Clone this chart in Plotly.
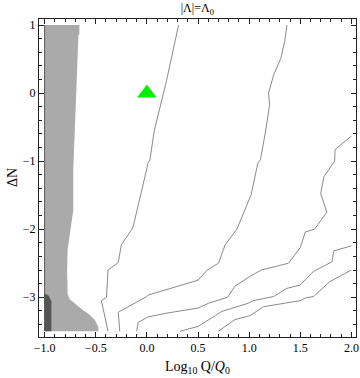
import plotly.graph_objects as go

# light gray region: right edge (x) at each dN (y), top to bottom
gray_edge_x = [-0.66, -0.66, -0.67, -0.68, -0.69, -0.70, -0.71, -0.72, -0.72, -0.735, -0.755,
               -0.765, -0.775, -0.78, -0.775, -0.755, -0.67, -0.624, -0.575, -0.526, -0.51, -0.477, -0.474]
gray_edge_y = [1.0, 0.87, 0.85, 0.43, -0.03, -0.28, -0.73, -1.13, -1.72, -1.86, -2.08,
               -2.15, -2.3, -2.6, -2.95, -3.03, -3.14, -3.19, -3.24, -3.31, -3.33, -3.43, -3.5]

# dark gray patch, bottom left
dark_x = [-1.0, -0.96, -0.934, -0.934, -1.0]
dark_y = [-2.94, -2.98, -3.06, -3.5, -3.5]

# contour lines
c1_x = [0.31, 0.27, 0.19, 0.11, 0.07, 0.03, 0.01, -0.01, -0.05, -0.10, -0.134, -0.15, -0.25, -0.28, -0.38, -0.395, -0.445, -0.38]
c1_y = [1.0, 0.71, 0.17, -0.32, -0.57, -0.98, -1.03, -1.17, -1.42, -1.72, -1.96, -2.01, -2.23, -2.49, -2.6, -3.0, -3.05, -3.5]

c2_x = [1.37, 1.35, 1.31, 1.24, 1.19, 1.20, 1.16, 1.11, 1.085, 1.06, 1.02, 0.88, 0.765, 0.70, 0.59, 0.50, 0.01, 0.0, -0.28, -0.265]
c2_y = [1.0, 0.78, 0.51, 0.27, 0.0, -0.17, -0.57, -0.98, -1.03, -1.2, -1.49, -2.0, -2.23, -2.5, -2.6, -2.75, -2.97, -2.99, -3.22, -3.5]

c3_x = [2.0, 1.84, 1.836, 1.78, 1.73, 1.70, 1.76, 1.64, 1.55, 1.5, 1.385, 1.12, 0.99, 0.86, 0.79, 0.60, 0.50, 0.21, 0.01, -0.085, -0.10]
c3_y = [-0.63, -0.83, -1.0, -1.13, -1.23, -1.48, -1.75, -2.0, -2.04, -2.27, -2.5, -2.6, -2.71, -2.84, -3.0, -3.09, -3.16, -3.23, -3.29, -3.37, -3.5]

c4_x = [2.0, 1.827, 1.81, 1.63, 1.5, 1.37, 1.24, 1.04, 0.99, 0.73, 0.67, 0.50, 0.324]
c4_y = [-2.245, -2.32, -2.48, -2.62, -2.82, -2.87, -2.99, -3.05, -3.09, -3.21, -3.27, -3.43, -3.5]

c5_x = [0.70, 0.86, 1.01, 1.14, 1.5, 1.55, 1.63, 1.79, 2.0]
c5_y = [-3.5, -3.33, -3.27, -3.14, -3.05, -3.01, -2.99, -2.77, -2.6]

point_x = [0.0]
point_y = [0.0]

serif = "Liberation Serif"

fig = go.Figure()
fig.add_trace(go.Scatter(
    x=[-1.0] + gray_edge_x + [-1.0], y=[1.0] + gray_edge_y + [-3.5],
    fill="toself", fillcolor="#aaaaaa", line=dict(width=0), mode="lines", hoverinfo="skip"))
fig.add_trace(go.Scatter(
    x=dark_x, y=dark_y, fill="toself", fillcolor="#555555",
    line=dict(width=0), mode="lines", hoverinfo="skip"))
fig.add_trace(go.Scatter(x=[-1.0, -1.0], y=[1.0, -3.5], mode="lines",
                         line=dict(color="#555555", width=1)))
for cx, cy in [(c1_x, c1_y), (c2_x, c2_y), (c3_x, c3_y), (c4_x, c4_y), (c5_x, c5_y)]:
    fig.add_trace(go.Scatter(x=cx, y=cy, mode="lines", line=dict(color="#8a8a8a", width=1)))
fig.add_trace(go.Scatter(x=point_x, y=point_y, mode="markers",
                         marker=dict(symbol="triangle-up", size=17, color="#00ee00")))

axis_common = dict(
    showgrid=False, zeroline=False, showline=True, linecolor="#222222", linewidth=1,
    mirror="allticks", ticks="inside", ticklen=5, tickcolor="#222222", automargin=False,
    tickfont=dict(family=serif, size=12, color="black"),
)
fig.update_xaxes(range=[-1.055, 2.045], tickvals=[-1, -0.5, 0, 0.5, 1, 1.5, 2], tickformat=".1f",
                 minor=dict(dtick=0.1, tick0=0, ticks="inside", ticklen=3, tickcolor="#222222"),
                 **axis_common)
fig.update_yaxes(range=[-3.585, 1.09], tickvals=[-3, -2, -1, 0, 1],
                 minor=dict(dtick=0.2, tick0=0, ticks="inside", ticklen=3, tickcolor="#222222"),
                 **axis_common)
fig.update_layout(
    width=360, height=378, showlegend=False,
    margin=dict(l=39, r=4, t=19, b=41, autoexpand=False),
    plot_bgcolor="white", paper_bgcolor="white",
    title=dict(text="|Λ|=Λ<sub>0</sub>", x=0.548, xanchor="center", y=0.99, yanchor="top",
               font=dict(family=serif, size=12, color="black")),
    annotations=[
        dict(text="Log<sub>10</sub> Q/<i>Q</i><sub>0</sub>", xref="paper", yref="paper",
             x=0.5, y=-0.062, xanchor="center", yanchor="top", showarrow=False,
             font=dict(family=serif, size=14, color="black")),
        dict(text="ΔN", xref="paper", yref="paper", x=-0.085, y=0.5, textangle=-90,
             xanchor="center", yanchor="middle", showarrow=False,
             font=dict(family=serif, size=14, color="black")),
    ],
)
fig.write_html("out.html", config={"displayModeBar": False},
               post_script="document.body.style.margin='0';")
